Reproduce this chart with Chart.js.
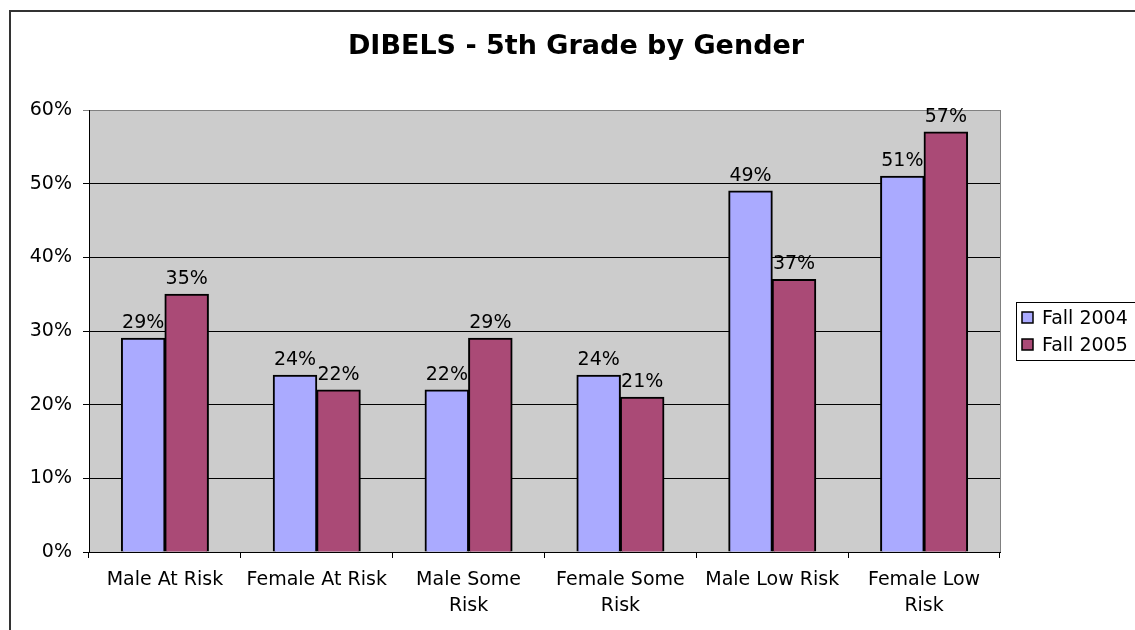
<!DOCTYPE html>
<html>
<head>
<meta charset="utf-8">
<script src="https://cdn.jsdelivr.net/npm/chart.js@4"></script>
<style>
  body { margin: 0; background: #fff; }
  #wrap { width: 1135px; height: 630px; }
</style>
</head>
<body>
<div id="wrap"><canvas id="chart" width="1135" height="630"></canvas></div>
<script>
const categories = [
  "Male At Risk",
  "Female At Risk",
  ["Male Some", "Risk"],
  ["Female Some", "Risk"],
  "Male Low Risk",
  ["Female Low", "Risk"],
];
const fall2004 = [29, 24, 22, 24, 49, 51];
const fall2005 = [35, 22, 29, 21, 37, 57];
const seriesNames = ["Fall 2004", "Fall 2005"];
const chartTitle = "DIBELS - 5th Grade by Gender";

const FONT = "'DejaVu Sans', Verdana, sans-serif";
const colors = ["#AAAAFF", "#AA4A76"];

// gray plot area, outer frame, title, data labels and boxed legend
const decorations = {
  id: "decorations",
  beforeDraw(chart) {
    const { ctx, chartArea: a } = chart;
    ctx.save();
    ctx.fillStyle = "#CCCCCC";
    ctx.fillRect(a.left, a.top, a.right - a.left, a.bottom - a.top);
    ctx.strokeStyle = "#808080";
    ctx.lineWidth = 1;
    ctx.beginPath();
    ctx.moveTo(a.right + 0.5, a.top);
    ctx.lineTo(a.right + 0.5, a.bottom);
    ctx.stroke();

    // frame
    ctx.fillStyle = "#333";
    ctx.fillRect(9, 10, 1135 - 9, 2);
    ctx.fillRect(9, 10, 2, 630 - 10);

    // title
    ctx.fillStyle = "#000";
    ctx.font = "bold 27px " + FONT;
    ctx.textAlign = "center";
    ctx.textBaseline = "middle";
    ctx.fillText(chartTitle, 576, 47);
    ctx.restore();
  },
  afterDatasetsDraw(chart) {
    const { ctx } = chart;
    ctx.save();
    ctx.fillStyle = "#000";
    ctx.font = "19px " + FONT;
    ctx.textAlign = "center";
    ctx.textBaseline = "alphabetic";
    chart.data.datasets.forEach((ds, i) => {
      chart.getDatasetMeta(i).data.forEach((bar, j) => {
        ctx.fillText(ds.data[j] + "%", bar.x, bar.y - 10);
      });
    });

    // legend
    ctx.strokeStyle = "#000";
    ctx.lineWidth = 1;
    ctx.strokeRect(1016.5, 302.5, 130, 58);
    ctx.font = "19px " + FONT;
    ctx.textAlign = "left";
    ctx.textBaseline = "middle";
    seriesNames.forEach((name, i) => {
      const cy = 318 + i * 27;
      ctx.fillStyle = colors[i];
      ctx.fillRect(1022, cy - 6, 11, 11);
      ctx.lineWidth = 1.5;
      ctx.strokeRect(1022, cy - 6, 11, 11);
      ctx.fillStyle = "#000";
      ctx.fillText(name, 1042, cy + 1);
    });
    ctx.restore();
  },
};

new Chart(document.getElementById("chart"), {
  type: "bar",
  data: {
    labels: categories,
    datasets: [
      {
        label: seriesNames[0],
        data: fall2004,
        backgroundColor: colors[0],
        borderColor: "#000",
        borderWidth: 2,
        inflateAmount: 0.5,
      },
      {
        label: seriesNames[1],
        data: fall2005,
        backgroundColor: colors[1],
        borderColor: "#000",
        borderWidth: 2,
        inflateAmount: 0.5,
      },
    ],
  },
  options: {
    responsive: false,
    animation: false,
    categoryPercentage: 0.573,
    barPercentage: 1,
    layout: { padding: { left: 10, top: 110, right: 135, bottom: 0 } },
    plugins: {
      legend: { display: false },
      title: { display: false },
      tooltip: { enabled: false },
    },
    scales: {
      x: {
        afterFit(scale) { scale.height = 78; },
        grid: {
          offset: true,
          drawOnChartArea: false,
          tickLength: 6,
          color: "#000",
        },
        border: { color: "#000", width: 1 },
        ticks: {
          color: "#000",
          font: { family: FONT, size: 19, lineHeight: 1.32 },
          padding: 10,
          maxRotation: 0,
          autoSkip: false,
        },
      },
      y: {
        min: 0,
        max: 60,
        afterFit(scale) { scale.width = 79; },
        grid: {
          tickLength: 6,
          color: (c) => (c.tick && c.tick.value === 60 ? "#808080" : "#000"),
        },
        border: { color: "#000", width: 1 },
        ticks: {
          stepSize: 10,
          color: "#000",
          padding: 11,
          font: { family: FONT, size: 19 },
          callback: (v) => v + "%",
        },
      },
    },
  },
  plugins: [decorations],
});
</script>
</body>
</html>
